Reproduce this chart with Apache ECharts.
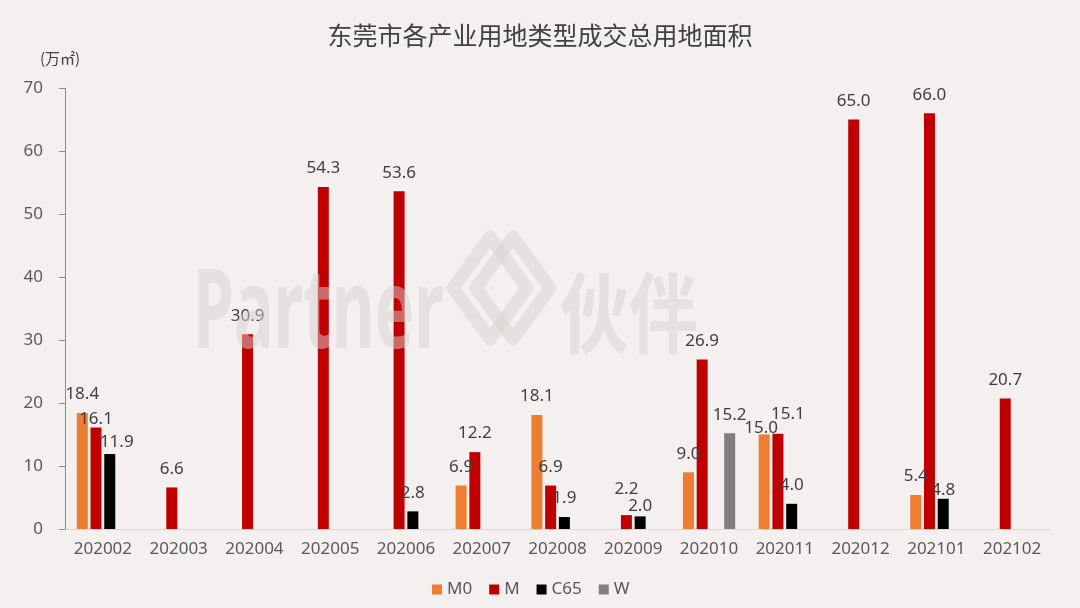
<!DOCTYPE html>
<html>
<head>
<meta charset="utf-8">
<script src="https://cdn.jsdelivr.net/npm/echarts@6/dist/echarts.min.js"></script>
<style>
html,body{margin:0;padding:0;background:#f5f0f0;}
#c{width:1080px;height:608px;}
</style>
</head>
<body>
<div id="c"></div>
<script>
var categories = ['202002','202003','202004','202005','202006','202007','202008','202009','202010','202011','202012','202101','202102'];
var seriesNames = ['M0','M','C65','W'];
var valuesM0  = [18.4, null, null, null, null, 6.9, 18.1, null, 9.0, 15.0, null, 5.4, null];
var valuesM   = [16.1, 6.6, 30.9, 54.3, 53.6, 12.2, 6.9, 2.2, 26.9, 15.1, 65.0, 66.0, 20.7];
var valuesC65 = [11.9, null, null, null, 2.8, null, 1.9, 2.0, null, 4.0, null, 4.8, null];
var valuesW   = [null, null, null, null, null, null, null, null, 15.2, null, null, null, null];
var yTicks = [0, 10, 20, 30, 40, 50, 60, 70];

// label nudges (style only): series -> category index -> [dx, dy]
var labelNudges = {
  'M':   {0: [0, 10], 7: [0, -7], 9: [10, -1]},
  'C65': {0: [7, 7], 7: [0, 8], 11: [0, 10]},
  'M0':  {9: [-3, 12]}
};
var colors = {'M0':'#ed7d31','M':'#c00000','C65':'#000000','W':'#7f7f7f'};
var valueSets = {'M0':valuesM0,'M':valuesM,'C65':valuesC65,'W':valuesW};

var FONT = '"Noto Sans", "Noto Sans CJK SC", sans-serif';

function buildData(name){
  var arr = valueSets[name];
  var nudges = labelNudges[name] || {};
  return arr.map(function(v, i){
    if (v === null) return null;
    var item = {value: v};
    if (nudges[i]) item.label = {offset: nudges[i]};
    return item;
  });
}

var chart = echarts.init(document.getElementById('c'), null, {renderer:'canvas'});
var option = {
  backgroundColor: '#f5f0f0',
  animation: false,
  title: {
    text: '东莞市各产业用地类型成交总用地面积',
    left: 'center',
    top: 18,
    textStyle: {fontFamily: '"Noto Sans CJK SC", sans-serif', fontSize: 25, fontWeight: 'normal', color: '#404040'}
  },
  legend: {
    data: seriesNames,
    left: 427,
    top: 576,
    icon: 'rect',
    itemWidth: 10,
    itemHeight: 10,
    itemGap: 17,
    textStyle: {fontFamily: FONT, fontSize: 17, color: '#595959'}
  },
  grid: {left: 65, right: 30, top: 88, bottom: 79, containLabel: false},
  xAxis: {
    type: 'category',
    data: categories,
    axisLine: {show: true, lineStyle: {color: '#d9d9d9', width: 1}},
    axisTick: {show: false},
    axisLabel: {interval: 0, fontFamily: FONT, fontSize: 17, color: '#595959', margin: 12}
  },
  yAxis: {
    type: 'value',
    min: yTicks[0],
    max: yTicks[yTicks.length - 1],
    interval: yTicks[1] - yTicks[0],
    axisLine: {show: true, lineStyle: {color: '#8c8c8c', width: 1}},
    axisTick: {show: true, length: 6, lineStyle: {color: '#8c8c8c'}},
    splitLine: {show: false},
    axisLabel: {fontFamily: FONT, fontSize: 17, color: '#595959', margin: 22}
  },
  graphic: [
    {type: 'text', left: 40, top: 51, style: {text: '(万㎡)', font: '15px "Noto Sans CJK SC", sans-serif', fill: '#404040'}},
    // watermark
    {type: 'text', x: 193, y: 316, scaleX: 0.59, z: 100,
      style: {text: 'Partner', font: 'bold 112px "Noto Sans", sans-serif', fill: '#d7d2d0', opacity: 0.5, textAlign: 'left', textVerticalAlign: 'middle', verticalAlign: 'middle'}},
    {type: 'polygon', z: 100, shape: {points: [[490,237],[453,288],[490,339],[527,288]]},
      style: {fill: 'none', stroke: '#d7d2d0', lineWidth: 13, lineJoin: 'round', opacity: 0.5}},
    {type: 'polygon', z: 100, shape: {points: [[513,237],[476,288],[513,339],[550,288]]},
      style: {fill: 'none', stroke: '#d7d2d0', lineWidth: 13, lineJoin: 'round', opacity: 0.5}},
    {type: 'text', x: 560, y: 313, scaleX: 0.78, z: 100,
      style: {text: '伙伴', font: 'bold 88px "Noto Sans CJK SC", sans-serif', fill: '#d7d2d0', opacity: 0.5, textAlign: 'left', textVerticalAlign: 'middle', verticalAlign: 'middle'}}
  ],
  series: seriesNames.map(function(name){
    return {
      name: name,
      type: 'bar',
      barWidth: 11,
      barGap: '25%',
      data: buildData(name),
      itemStyle: {color: colors[name]},
      label: {
        show: true,
        position: 'top',
        distance: 10,
        fontFamily: FONT,
        fontSize: 17,
        color: '#404040',
        formatter: function(p){ return p.value == null ? '' : Number(p.value).toFixed(1); }
      }
    };
  })
};
chart.setOption(option);
</script>
</body>
</html>
